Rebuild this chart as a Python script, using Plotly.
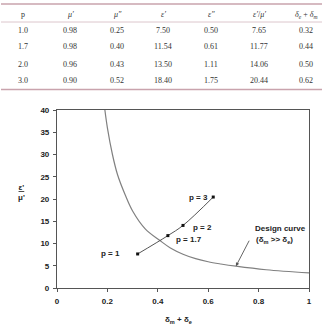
import plotly.graph_objects as go

# ---- table data ----
table_headers = ["p", "<i>μ′</i>", "<i>μ″</i>", "<i>ε′</i>", "<i>ε″</i>", "<i>ε′</i>/<i>μ′</i>", "<i>δ<sub>e</sub></i> + <i>δ<sub>m</sub></i>"]
p_vals = ["1.0", "1.7", "2.0", "3.0"]
mu_r = ["0.98", "0.98", "0.96", "0.90"]
mu_i = ["0.25", "0.40", "0.43", "0.52"]
eps_r = ["7.50", "11.54", "13.50", "18.40"]
eps_i = ["0.50", "0.61", "1.11", "1.75"]
eps_mu = [7.65, 11.77, 14.06, 20.44]
delta_sum = [0.32, 0.44, 0.50, 0.62]

# ---- design curve ----
design_x = [0.19, 0.20, 0.22, 0.24, 0.27, 0.30, 0.35, 0.41, 0.45, 0.50, 0.55, 0.60, 0.65, 0.71, 0.83, 1.0]
design_y = [40, 36, 30, 25.5, 21, 17.3, 13.3, 10.6, 9.0, 7.6, 6.6, 5.9, 5.4, 4.9, 4.1, 3.4]

p_labels = ["p = 1", "p = 1.7", "p = 2", "p = 3"]

fig = go.Figure()
fig.add_trace(go.Scatter(x=design_x, y=design_y, mode="lines",
                         line=dict(color="#808080", width=1.2, shape="spline", smoothing=1.0),
                         hoverinfo="skip", cliponaxis=True))
fig.add_trace(go.Scatter(x=delta_sum, y=eps_mu, mode="lines+markers",
                         line=dict(color="#555555", width=1, shape="spline"),
                         marker=dict(symbol="square", size=3, color="#111111"),
                         hoverinfo="skip"))

L, R, T, B = 57, 15, 110, 42
W, H = 324, 330
pw, ph = W - L - R, H - T - B

def px(xp):
    return (xp - L) / pw

def py(yp):
    return (H - B - yp) / ph

annotations = []
# table
col_x = [23, 70, 117, 163, 211, 259, 306]
hdr_y = 15
row_y = [30, 47, 64, 81]
tfont = dict(family="Liberation Serif", size=8, color="#333333")
for cx, h in zip(col_x, table_headers):
    annotations.append(dict(x=px(cx), y=py(hdr_y), xref="paper", yref="paper", text=h,
                            showarrow=False, font=tfont, xanchor="center", yanchor="middle"))
cols = [p_vals, mu_r, mu_i, eps_r, eps_i, [f"{v:.2f}" for v in eps_mu], [f"{v:.2f}" for v in delta_sum]]
for cx, col in zip(col_x, cols):
    for ry, v in zip(row_y, col):
        annotations.append(dict(x=px(cx), y=py(ry), xref="paper", yref="paper", text=v,
                                showarrow=False, font=tfont, xanchor="center", yanchor="middle"))

cfont = dict(family="Liberation Sans", size=8, color="#222222")
# p labels
lab_pos = [(0.212, 7.7), (0.522, 10.9), (0.579, 13.7), (0.561, 20.3)]
for (lx, ly), t in zip(lab_pos, p_labels):
    annotations.append(dict(x=lx, y=ly, xref="x", yref="y", text="<b>%s</b>" % t,
                            showarrow=False, font=cfont, xanchor="center", yanchor="middle"))
annotations.append(dict(x=0.778, y=13.3, xref="x", yref="y", text="<b>Design curve</b>",
                        showarrow=False, font=cfont, xanchor="left", yanchor="middle"))
annotations.append(dict(x=0.782, y=10.9, xref="x", yref="y", text="<b>(δ<sub>m</sub> >> δ<sub>e</sub>)</b>",
                        showarrow=False, font=cfont, xanchor="left", yanchor="middle"))
annotations.append(dict(x=0.71, y=4.9, xref="x", yref="y", text="", showarrow=True,
                        ax=14, ay=-27, arrowhead=2, arrowsize=0.8, arrowwidth=0.9,
                        arrowcolor="#555555"))
# axis titles
annotations.append(dict(x=px(21), y=py(192), xref="paper", yref="paper",
                        text="<b><u>ε'</u></b><br><b>μ'</b>", showarrow=False,
                        font=dict(family="Liberation Sans", size=8, color="#222222"),
                        xanchor="center", yanchor="middle"))
annotations.append(dict(x=px(178), y=py(320), xref="paper", yref="paper",
                        text="<b>δ<sub>m</sub> + δ<sub>e</sub></b>", showarrow=False,
                        font=dict(family="Liberation Sans", size=8, color="#222222"),
                        xanchor="center", yanchor="middle"))

shapes = [
    dict(type="line", xref="paper", yref="paper", x0=px(1), x1=px(322), y0=py(4), y1=py(4),
         line=dict(color="#c9a3ad", width=1.5)),
    dict(type="line", xref="paper", yref="paper", x0=px(1), x1=px(322), y0=py(22), y1=py(22),
         line=dict(color="#dcc6cc", width=1)),
    dict(type="line", xref="paper", yref="paper", x0=px(1), x1=px(322), y0=py(89.5), y1=py(89.5),
         line=dict(color="#c9a3ad", width=1.5)),
]

fig.update_layout(
    width=W, height=H, margin=dict(l=L, r=R, t=T, b=B, pad=0),
    paper_bgcolor="white", plot_bgcolor="white", showlegend=False,
    annotations=annotations, shapes=shapes,
    xaxis=dict(range=[0, 1], dtick=0.2, tick0=0, showgrid=False, zeroline=False,
               showline=True, linecolor="#555555", linewidth=1.2, mirror=True,
               ticks="outside", ticklen=3, tickcolor="#555555",
               tickfont=dict(family="Liberation Sans", size=8, color="#222222"),
               ticklabelstandoff=2),
    yaxis=dict(range=[0, 40], dtick=5, tick0=0, showgrid=False, zeroline=False,
               showline=True, linecolor="#555555", linewidth=1.2, mirror=True,
               ticks="outside", ticklen=3, tickcolor="#555555",
               tickfont=dict(family="Liberation Sans", size=8, color="#222222"),
               ticklabelstandoff=2),
)
fig.update_xaxes(tickprefix="<b>", ticksuffix="</b>")
fig.update_yaxes(tickprefix="<b>", ticksuffix="</b>")

fig.write_html("out.html")
